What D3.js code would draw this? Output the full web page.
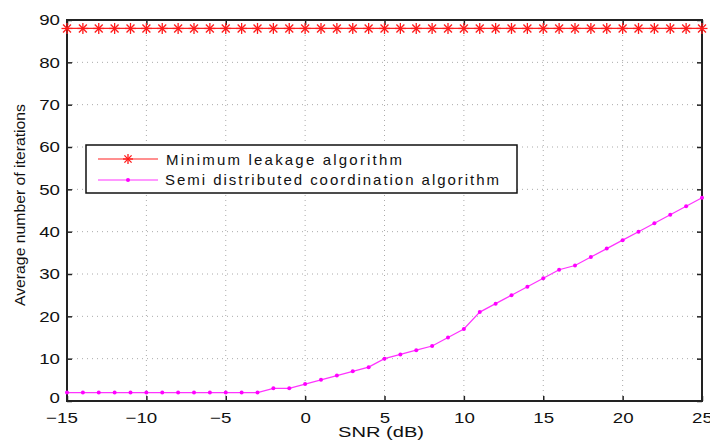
<!DOCTYPE html>
<html><head><meta charset="utf-8">
<script src="https://cdn.jsdelivr.net/npm/d3@7"></script>
<style>body{margin:0;background:#fff;} text{font-family:"Liberation Sans",Arial,sans-serif;}</style>
</head><body><svg id="c" width="710" height="442"></svg>
<script>
const snr = d3.range(-15, 26, 1);
const minLeakage = [88,88,88,88,88,88,88,88,88,88,88,88,88,88,88,88,88,88,88,88,88,88,88,88,88,88,88,88,88,88,88,88,88,88,88,88,88,88,88,88,88];
const semiDistributed = [2,2,2,2,2,2,2,2,2,2,2,2,2,3,3,4,5,6,7,8,10,11,12,13,15,17,21,23,25,27,29,31,32,34,36,38,40,42,44,46,48];
const xTicks = [-15,-10,-5,0,5,10,15,20,25];
const yTicks = [0,10,20,30,40,50,60,70,80,90];
const seriesNames = ["Minimum leakage algorithm","Semi distributed coordination algorithm"];
const xLabel = "SNR (dB)";
const yLabel = "Average number of iterations";

const svg = d3.select("#c");
const L=67, R=702, T=20, B=401;
const x = d3.scaleLinear().domain([-15,25]).range([L,R]);
const y = d3.scaleLinear().domain([0,90]).range([B,T]);

// grid
const g = svg.append("g");
g.selectAll(".gx").data(xTicks.slice(1,-1)).enter().append("line")
 .attr("x1",d=>x(d)).attr("x2",d=>x(d)).attr("y1",T).attr("y2",B)
 .attr("stroke","#aaa").attr("stroke-width",1).attr("stroke-dasharray","1,4");
g.selectAll(".gy").data(yTicks.slice(1,-1)).enter().append("line")
 .attr("y1",d=>y(d)).attr("y2",d=>y(d)).attr("x1",L).attr("x2",R)
 .attr("stroke","#aaa").attr("stroke-width",1).attr("stroke-dasharray","1,4");

// axes
const fmt = d=> d<0 ? "\u2212"+Math.abs(d) : String(d);
const digitW = 10.4, minusW = 11;
const ax = svg.append("g").attr("transform",`translate(0,${B})`)
 .call(d3.axisBottom(x).tickValues(xTicks).tickFormat(fmt).tickSizeInner(-5).tickSizeOuter(0).tickPadding(10));
const ay = svg.append("g").attr("transform",`translate(${L},0)`)
 .call(d3.axisLeft(y).tickValues(yTicks).tickFormat(fmt).tickSizeInner(-5).tickSizeOuter(0).tickPadding(7));
const axT = svg.append("g").attr("transform",`translate(0,${T})`)
 .call(d3.axisTop(x).tickValues(xTicks).tickFormat("").tickSizeInner(-5).tickSizeOuter(0));
const ayR = svg.append("g").attr("transform",`translate(${R},0)`)
 .call(d3.axisRight(y).tickValues(yTicks).tickFormat("").tickSizeInner(-5).tickSizeOuter(0));
[ax,ay,axT,ayR].forEach(a=>{
  a.select(".domain").remove();
  a.selectAll(".tick line").attr("stroke","#222").attr("stroke-width",1.5);
  a.selectAll("text").attr("font-size",15).attr("fill","#111").style("font-family","Liberation Sans, Arial, sans-serif");
});
ax.selectAll(".tick text").each(function(d){
  const n = String(Math.abs(d)).length;
  const t = d3.select(this).attr("textLength", n*digitW + (d<0?minusW:0)).attr("lengthAdjust","spacingAndGlyphs")
   .attr("dy",null).attr("y",21.5);
  if (d<0) t.attr("dx", -minusW/2);
});
ay.selectAll(".tick text").each(function(d){
  const n = String(Math.abs(d)).length;
  const t = d3.select(this).attr("textLength", n*digitW).attr("lengthAdjust","spacingAndGlyphs");
  if (d===0) t.attr("y",-3);
});
svg.append("rect").attr("x",L).attr("y",T).attr("width",R-L).attr("height",B-T)
 .attr("fill","none").attr("stroke","#222").attr("stroke-width",2);

// series
const line = d3.line().x((d,i)=>x(snr[i])).y(d=>y(d));
svg.append("path").datum(minLeakage).attr("d",line).attr("fill","none").attr("stroke","#ff2020").attr("stroke-width",1.2);
const star = (sel, cx, cy, r)=>{
  const gg = sel.append("g").attr("transform",`translate(${cx},${cy})`).attr("stroke","#ff1a1a").attr("stroke-width",1.3);
  gg.append("line").attr("x1",-r).attr("x2",r).attr("y1",0).attr("y2",0);
  gg.append("line").attr("x1",0).attr("x2",0).attr("y1",-r).attr("y2",r);
  const k=r*0.72;
  gg.append("line").attr("x1",-k).attr("x2",k).attr("y1",-k).attr("y2",k);
  gg.append("line").attr("x1",-k).attr("x2",k).attr("y1",k).attr("y2",-k);
};
const starG = svg.append("g");
minLeakage.forEach((v,i)=>star(starG, x(snr[i]), y(v), 5.5));

svg.append("path").datum(semiDistributed).attr("d",line).attr("fill","none").attr("stroke","#ff33ff").attr("stroke-width",1.2);
svg.append("g").selectAll("circle").data(semiDistributed).enter().append("circle")
 .attr("cx",(d,i)=>x(snr[i])).attr("cy",d=>y(d)).attr("r",2).attr("fill","#ff00ff");

// legend
const lg = svg.append("g");
lg.append("rect").attr("x",86).attr("y",145).attr("width",431).attr("height",48).attr("fill","#fff").attr("stroke","#111").attr("stroke-width",1.5);
lg.append("line").attr("x1",98).attr("x2",158).attr("y1",159).attr("y2",159).attr("stroke","#ff2020").attr("stroke-width",1.2);
star(lg,128,159,5);
lg.append("line").attr("x1",98).attr("x2",158).attr("y1",180).attr("y2",180).attr("stroke","#ff33ff").attr("stroke-width",1.2);
lg.append("circle").attr("cx",128).attr("cy",180).attr("r",2).attr("fill","#ff00ff");
lg.append("text").attr("x",166).attr("y",165).attr("font-size",15).attr("fill","#111").attr("textLength",236).text(seriesNames[0]);
lg.append("text").attr("x",165).attr("y",185).attr("font-size",15).attr("fill","#111").attr("textLength",334).text(seriesNames[1]);

// labels
svg.append("text").attr("x",381).attr("y",437).attr("text-anchor","middle").attr("font-size",14.5).attr("fill","#111")
 .attr("textLength",86).attr("lengthAdjust","spacingAndGlyphs").text(xLabel);
svg.append("text").attr("transform",`translate(25,205) rotate(-90)`).attr("text-anchor","middle").attr("font-size",14).attr("fill","#111")
 .attr("textLength",202).attr("lengthAdjust","spacingAndGlyphs").text(yLabel);
</script></body></html>
